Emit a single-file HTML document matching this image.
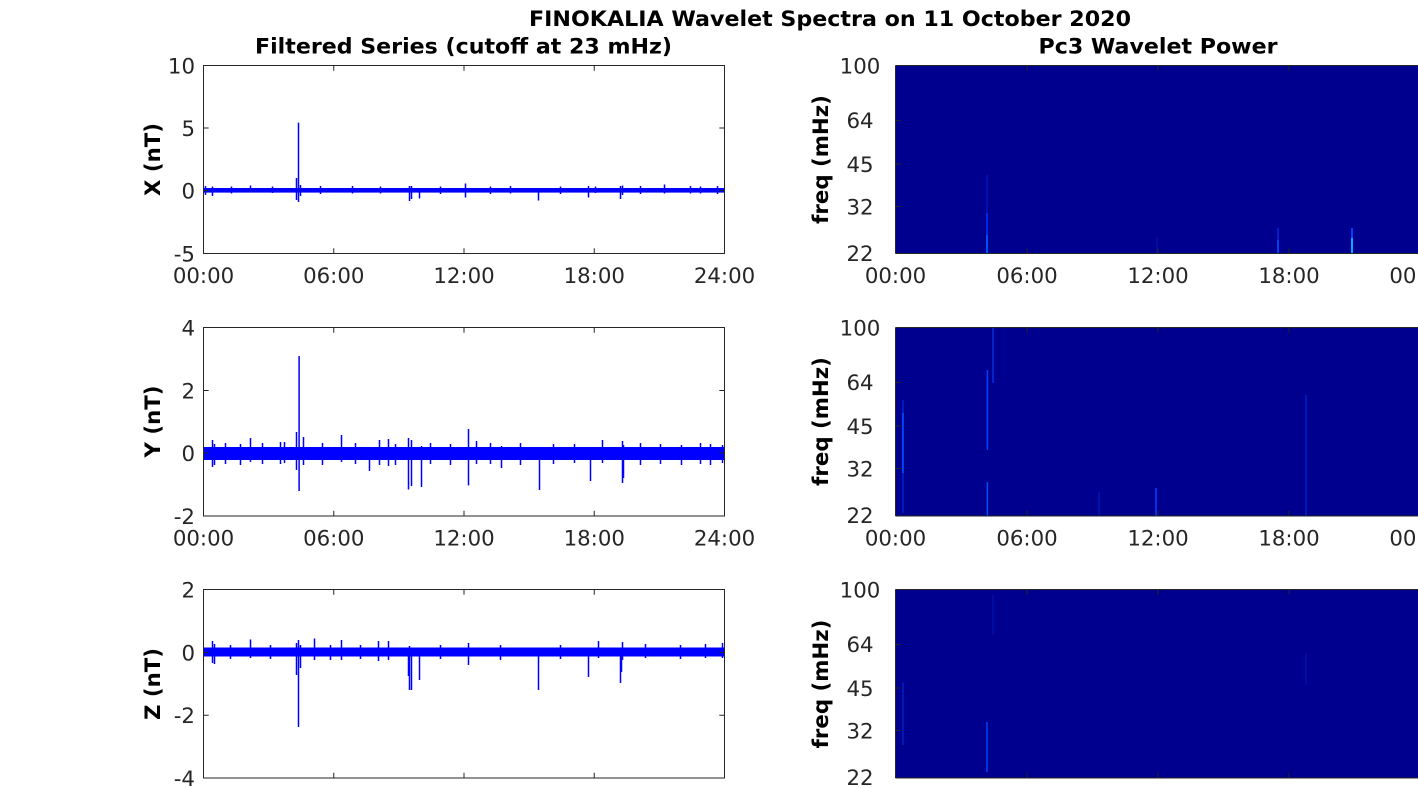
<!DOCTYPE html>
<html>
<head>
<meta charset="utf-8">
<style>
html,body{margin:0;padding:0;background:#fff;}
body{width:1418px;height:788px;overflow:hidden;}
svg{display:block;}
text{font-family:"DejaVu Sans","Liberation Sans",sans-serif;}
.tk{font-size:21.3px;fill:#262626;}
.tt{font-size:21.3px;font-weight:bold;fill:#000;}
.yl{font-size:21.3px;font-weight:bold;fill:#000;}
</style>
</head>
<body>
<svg width="1418" height="788" viewBox="0 0 1418 788" xmlns="http://www.w3.org/2000/svg">
<rect width="1418" height="788" fill="#fff"/>

<!-- Titles -->
<text class="tt" x="830" y="26" text-anchor="middle" textLength="602" lengthAdjust="spacingAndGlyphs">FINOKALIA Wavelet Spectra on 11 October 2020</text>
<text class="tt" x="463.5" y="53.5" text-anchor="middle" textLength="417" lengthAdjust="spacingAndGlyphs">Filtered Series (cutoff at 23 mHz)</text>
<text class="tt" x="1158" y="53.5" text-anchor="middle" textLength="239" lengthAdjust="spacingAndGlyphs">Pc3 Wavelet Power</text>

<!-- ============ LEFT PANEL 1 (X) ============ -->
<rect x="203.5" y="188" width="520.5" height="4.6" fill="#0000ff"/>
<path transform="translate(0.5,0)" fill="none" stroke="#0000ff" stroke-width="1.5" d="M298,122.6V202 M296,178V200 M300,185V196 M250,185.5V192 M212,186.5V196 M205,186V195 M409,186V201 M411,186V199 M419,189V198.5 M465,183.5V197.5 M538,189V200.5 M588,186V197.5 M595,186.5V193 M620,186V199 M622,185.5V195 M664,184.5V193.5 M352,186V193.5 M490,186.5V194 M510,186V193.5 M560,186.5V194 M640,186V194 M700,186.5V193.5 M717,186V194 M272,186.5V193 M231,186.5V193.5 M320,186V194 M380,186.5V193.5 M440,186.5V194 M690,186V193.5"/>
<rect x="203.5" y="65.5" width="521" height="188" fill="none" stroke="#262626" stroke-width="1"/>
<path stroke="#262626" stroke-width="1" fill="none" d="M333.75,65.5v5.2 M464,65.5v5.2 M594.25,65.5v5.2 M333.75,253.5v-5.2 M464,253.5v-5.2 M594.25,253.5v-5.2 M203.5,128h5.2 M203.5,190.5h5.2 M724.5,128h-5.2 M724.5,190.5h-5.2"/>
<g class="tk" text-anchor="end">
<text x="195" y="73.3">10</text>
<text x="195" y="135.8">5</text>
<text x="195" y="198.3">0</text>
<text x="195" y="261.3">-5</text>
</g>
<g class="tk" text-anchor="middle">
<text x="203.5" y="283">00:00</text>
<text x="333.75" y="283">06:00</text>
<text x="464" y="283">12:00</text>
<text x="594.25" y="283">18:00</text>
<text x="724.5" y="283">24:00</text>
</g>
<text class="yl" transform="translate(160,159.5) rotate(-90)" text-anchor="middle">X (nT)</text>

<!-- ============ LEFT PANEL 2 (Y) ============ -->
<rect x="203.5" y="447" width="520.5" height="13" fill="#0000ff"/>
<path transform="translate(0.5,0)" fill="none" stroke="#0000ff" stroke-width="1.5" d="M298.6,356V491 M296,432V470 M212,440V467 M214,444V465 M250,438V462 M280,442V464 M284,442V463 M303,437V465 M341,435V462 M369,448V471 M379,440V465 M388,439V466 M408,438V489.5 M411,440V486 M421,446V487 M468,429V485.5 M476,441V464 M501,446V468 M539,447V490 M574,444V463 M590,447V481 M602,440V463 M622,441V483 M623,445V478 M681,445V465 M722,445V463 M225,443V464 M240,444V465 M262,443V464 M322,443V465 M355,443V464 M395,444V465 M430,443V464 M450,444V465 M490,443V464 M520,443V465 M553,444V464 M640,443V465 M660,444V464 M700,443V464 M710,444V465"/>
<rect x="203.5" y="327.5" width="521" height="188.5" fill="none" stroke="#262626" stroke-width="1"/>
<path stroke="#262626" stroke-width="1" fill="none" d="M333.75,327.5v5.2 M464,327.5v5.2 M594.25,327.5v5.2 M333.75,516v-5.2 M464,516v-5.2 M594.25,516v-5.2 M203.5,390.5h5.2 M203.5,453h5.2 M724.5,390.5h-5.2 M724.5,453h-5.2"/>
<g class="tk" text-anchor="end">
<text x="195" y="335.3">4</text>
<text x="195" y="398.3">2</text>
<text x="195" y="460.8">0</text>
<text x="195" y="523.8">-2</text>
</g>
<g class="tk" text-anchor="middle">
<text x="203.5" y="545.5">00:00</text>
<text x="333.75" y="545.5">06:00</text>
<text x="464" y="545.5">12:00</text>
<text x="594.25" y="545.5">18:00</text>
<text x="724.5" y="545.5">24:00</text>
</g>
<text class="yl" transform="translate(160,421.5) rotate(-90)" text-anchor="middle">Y (nT)</text>

<!-- ============ LEFT PANEL 3 (Z) ============ -->
<rect x="203.5" y="647.5" width="520.5" height="9" fill="#0000ff"/>
<path transform="translate(0.5,0)" fill="none" stroke="#0000ff" stroke-width="1.5" d="M298,640V727 M296,643V675 M300,645V668 M212,641V663 M214,644V664 M250,639.5V658 M314,638.5V660 M341,640V660 M378,641V661 M388,641V660 M409,646V690 M411,648V690 M408,648V676 M419,648V680 M468,643V665 M538,649V690 M588,648V677 M598,641V658 M620,648V683 M621,648V672 M622,642V660 M645,644V658 M705,644V658 M722,643V658 M230,645V659 M270,645V659 M330,645V660 M360,645V659 M440,645V659 M500,645V660 M560,645V659 M680,645V659"/>
<rect x="203.5" y="589.5" width="521" height="188.5" fill="none" stroke="#262626" stroke-width="1"/>
<path stroke="#262626" stroke-width="1" fill="none" d="M333.75,589.5v5.2 M464,589.5v5.2 M594.25,589.5v5.2 M333.75,778v-5.2 M464,778v-5.2 M594.25,778v-5.2 M203.5,652.5h5.2 M203.5,715.3h5.2 M724.5,652.5h-5.2 M724.5,715.3h-5.2"/>
<g class="tk" text-anchor="end">
<text x="195" y="597.3">2</text>
<text x="195" y="660.3">0</text>
<text x="195" y="723.1">-2</text>
<text x="195" y="785.8">-4</text>
</g>
<text class="yl" transform="translate(160,684) rotate(-90)" text-anchor="middle">Z (nT)</text>

<!-- ============ RIGHT PANEL 1 ============ -->
<rect x="895.5" y="65.5" width="523" height="188" fill="#00008f"/>
<path fill="none" stroke-width="1.5" d="M987,175V253" stroke="#0010c0"/>
<path fill="none" stroke-width="1.5" d="M987,213V253" stroke="#0030ff"/>
<path fill="none" stroke-width="1.5" d="M987,235V253" stroke="#0060ff"/>
<path fill="none" stroke-width="1" d="M1157,237V253" stroke="#0018b0"/>
<path fill="none" stroke-width="1.5" d="M1278,228V253" stroke="#0028e0"/>
<path fill="none" stroke-width="1.5" d="M1278,240V253" stroke="#0050ff"/>
<path fill="none" stroke-width="2" d="M1352,228V253" stroke="#0040ff"/>
<path fill="none" stroke-width="1.5" d="M1352,238V253" stroke="#00c8ff"/>
<path stroke="#262626" stroke-width="1" fill="none" d="M895.5,65.5H1418 M895.5,253.5H1418 M895.5,65.5V253.5 M1027,65.5v5.2 M1158,65.5v5.2 M1289,65.5v5.2 M1027,253.5v-5.2 M1158,253.5v-5.2 M1289,253.5v-5.2 M895.5,120.4h5.2 M895.5,164h5.2 M895.5,206.5h5.2"/>
<g class="tk" text-anchor="middle">
<text x="860" y="73.3">100</text>
<text x="860" y="128.2">64</text>
<text x="860" y="171.8">45</text>
<text x="860" y="214.3">32</text>
<text x="860" y="260.8">22</text>
</g>
<g class="tk" text-anchor="middle">
<text x="895.5" y="283">00:00</text>
<text x="1027" y="283">06:00</text>
<text x="1158" y="283">12:00</text>
<text x="1289" y="283">18:00</text>
<text x="1420" y="283">00:00</text>
</g>
<text class="yl" transform="translate(828,159.5) rotate(-90)" text-anchor="middle">freq (mHz)</text>

<!-- ============ RIGHT PANEL 2 ============ -->
<rect x="895.5" y="327.5" width="523" height="188.5" fill="#00008f"/>
<path fill="none" stroke-width="1.5" d="M903,400V513" stroke="#0020d0"/>
<path fill="none" stroke-width="1.5" d="M903,413V473" stroke="#0050ff"/>
<path fill="none" stroke-width="1.5" d="M987.4,370V450" stroke="#0040ff"/>
<path fill="none" stroke-width="1.5" d="M987.4,482V516" stroke="#0050ff"/>
<path fill="none" stroke-width="1.5" d="M993,327V383" stroke="#0030e0"/>
<path fill="none" stroke-width="1" d="M1099,492V516" stroke="#0020c0"/>
<path fill="none" stroke-width="1.5" d="M1156,488V516" stroke="#0040ff"/>
<path fill="none" stroke-width="1" d="M1306,395V516" stroke="#0030e0"/>
<path stroke="#262626" stroke-width="1" fill="none" d="M895.5,327.5H1418 M895.5,516H1418 M895.5,327.5V516 M1027,327.5v5.2 M1158,327.5v5.2 M1289,327.5v5.2 M1027,516v-5.2 M1158,516v-5.2 M1289,516v-5.2 M895.5,382.4h5.2 M895.5,426h5.2 M895.5,468.5h5.2"/>
<g class="tk" text-anchor="middle">
<text x="860" y="335.3">100</text>
<text x="860" y="390.2">64</text>
<text x="860" y="433.8">45</text>
<text x="860" y="476.3">32</text>
<text x="860" y="522.8">22</text>
</g>
<g class="tk" text-anchor="middle">
<text x="895.5" y="545.5">00:00</text>
<text x="1027" y="545.5">06:00</text>
<text x="1158" y="545.5">12:00</text>
<text x="1289" y="545.5">18:00</text>
<text x="1420" y="545.5">00:00</text>
</g>
<text class="yl" transform="translate(828,421.5) rotate(-90)" text-anchor="middle">freq (mHz)</text>

<!-- ============ RIGHT PANEL 3 ============ -->
<rect x="895.5" y="589.5" width="523" height="188.5" fill="#00008f"/>
<path fill="none" stroke-width="1.5" d="M903,682V745" stroke="#0020c0"/>
<path fill="none" stroke-width="1.5" d="M987,722V772" stroke="#0040ff"/>
<path fill="none" stroke-width="1" d="M993,595V635" stroke="#0018b0"/>
<path fill="none" stroke-width="1" d="M1306,653V685" stroke="#0018b0"/>
<path stroke="#262626" stroke-width="1" fill="none" d="M895.5,589.5H1418 M895.5,778H1418 M895.5,589.5V778 M1027,589.5v5.2 M1158,589.5v5.2 M1289,589.5v5.2 M1027,778v-5.2 M1158,778v-5.2 M1289,778v-5.2 M895.5,644.4h5.2 M895.5,688h5.2 M895.5,730.5h5.2"/>
<g class="tk" text-anchor="middle">
<text x="860" y="597.3">100</text>
<text x="860" y="652.2">64</text>
<text x="860" y="695.8">45</text>
<text x="860" y="738.3">32</text>
<text x="860" y="784.8">22</text>
</g>
<text class="yl" transform="translate(828,684) rotate(-90)" text-anchor="middle">freq (mHz)</text>
</svg>
</body>
</html>
